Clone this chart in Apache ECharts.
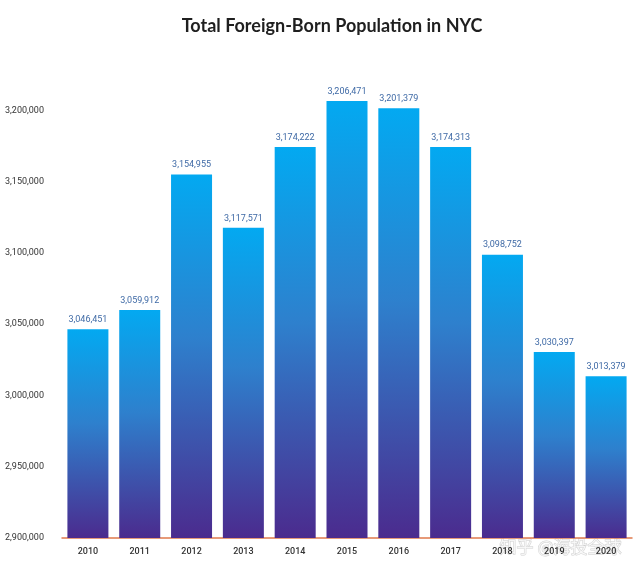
<!DOCTYPE html>
<html>
<head>
<meta charset="utf-8">
<script src="https://cdn.jsdelivr.net/npm/echarts@6/dist/echarts.min.js"></script>
<style>
  html, body { margin: 0; padding: 0; background: #fff; }
  #chart { width: 640px; height: 572px; }
</style>
</head>
<body>
<div id="chart"></div>
<script>
// 年份与人口数
const years = ['2010', '2011', '2012', '2013', '2014', '2015', '2016', '2017', '2018', '2019', '2020']
const population = [3046451, 3059912, 3154955, 3117571, 3174222, 3206471, 3201379, 3174313, 3098752, 3030397, 3013379]

const chart = echarts.init(document.getElementById('chart'))

const fmt = v => v.toLocaleString('en-US')

const option = {
  animation: false,
  title: {
    text: 'Total Foreign-Born Population in NYC',
    left: 327,
    textAlign: 'center',
    top: 12,
    textStyle: {
      fontFamily: 'Lato',
      fontWeight: 'bold',
      fontSize: 18,
      color: '#1f1f1f'
    }
  },
  grid: {
    left: 62,
    right: 8,
    top: 39,
    bottom: 34
  },
  xAxis: {
    type: 'category',
    data: years,
    axisLine: {
      show: true,
      lineStyle: { color: '#e07a4c', width: 1.5 }
    },
    axisTick: { show: false },
    axisLabel: {
      color: '#333',
      fontSize: 9,
      fontFamily: 'Roboto',
      fontWeight: 500,
      margin: 9
    }
  },
  yAxis: {
    type: 'value',
    min: 2900000,
    max: 3250000,
    interval: 50000,
    splitLine: { show: false },
    axisLine: { show: false },
    axisTick: { show: false },
    axisLabel: {
      showMaxLabel: false,
      color: '#333',
      fontSize: 9,
      fontFamily: 'Roboto',
      align: 'left',
      margin: 57,
      formatter: v => fmt(v)
    }
  },
  series: [
    {
      type: 'bar',
      data: population,
      barWidth: 41,
      itemStyle: {
        color: new echarts.graphic.LinearGradient(0, 0, 0, 1, [
          { offset: 0, color: '#03a9f1' },
          { offset: 0.45, color: '#2e80cd' },
          { offset: 1, color: '#4b2b8e' }
        ])
      },
      label: {
        show: true,
        position: 'top',
        distance: 5,
        color: '#3f6aa6',
        fontSize: 9,
        fontFamily: 'Roboto',
        formatter: p => fmt(p.value)
      }
    }
  ],
  graphic: [
    {
      type: 'text',
      right: 18,
      bottom: 16,
      style: {
        text: '知乎 @海投全球',
        fontSize: 17,
        fontFamily: 'Noto Sans CJK SC',
        fill: 'rgba(255,255,255,0.75)',
        stroke: 'rgba(120,120,120,0.35)',
        lineWidth: 1
      }
    }
  ]
}

chart.setOption(option)
</script>
</body>
</html>
